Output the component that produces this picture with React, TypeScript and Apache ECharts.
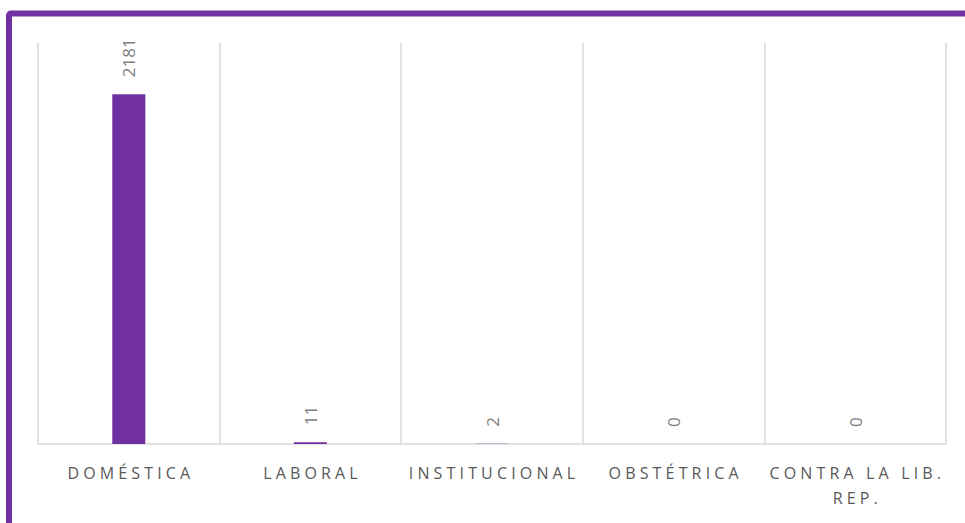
import React, { useEffect, useRef } from "react";
import * as echarts from "echarts";

const categories = ["DOMÉSTICA", "LABORAL", "INSTITUCIONAL", "OBSTÉTRICA", "CONTRA LA LIB.\nREP."];
const values = [2181, 11, 2, 0, 0];
const yMax = 2500;

const spaced = (s: string) =>
  s
    .split("\n")
    .map((line) => Array.from(line).join(" "))
    .join("\n");

export default function App() {
  const ref = useRef<HTMLDivElement>(null);
  useEffect(() => {
    document.body.style.margin = "0";
    const chart = echarts.init(ref.current!, undefined, { renderer: "svg" });
    chart.setOption({
      animation: false,
      backgroundColor: "#ffffff",
      textStyle: { fontFamily: "Open Sans" },
      grid: { left: 38, right: 19, top: 43, bottom: 79, containLabel: false },
      xAxis: {
        type: "category",
        data: categories,
        boundaryGap: true,
        axisLine: { show: true, lineStyle: { color: "#d9d9d9", width: 1.5 } },
        axisTick: { show: false },
        splitLine: { show: true, lineStyle: { color: "#d9d9d9", width: 1.5 } },
        axisLabel: {
          interval: 0,
          color: "#595959",
          fontSize: 16,
          lineHeight: 25,
          margin: 16,
          fontFamily: "Open Sans",
          formatter: (v: string) => spaced(v),
        },
      },
      yAxis: {
        type: "value",
        min: 0,
        max: yMax,
        show: false,
        splitLine: { show: false },
      },
      series: [
        {
          type: "bar",
          data: values,
          barWidth: 33,
          itemStyle: { color: "#7030a0" },
          label: {
            show: true,
            position: "top",
            rotate: 90,
            align: "left",
            verticalAlign: "middle",
            distance: 17,
            color: "#7f7f7f",
            fontSize: 17,
            fontFamily: "Open Sans",
          },
        },
      ],
      graphic: [
        {
          type: "rect",
          shape: { x: 9, y: 13.5, width: 1000, height: 560, r: 2 },
          style: { fill: "none", stroke: "#7030a0", lineWidth: 6 },
          silent: true,
        },
      ],
    });
    return () => chart.dispose();
  }, []);
  return <div ref={ref} style={{ width: 965, height: 523 }} />;
}
